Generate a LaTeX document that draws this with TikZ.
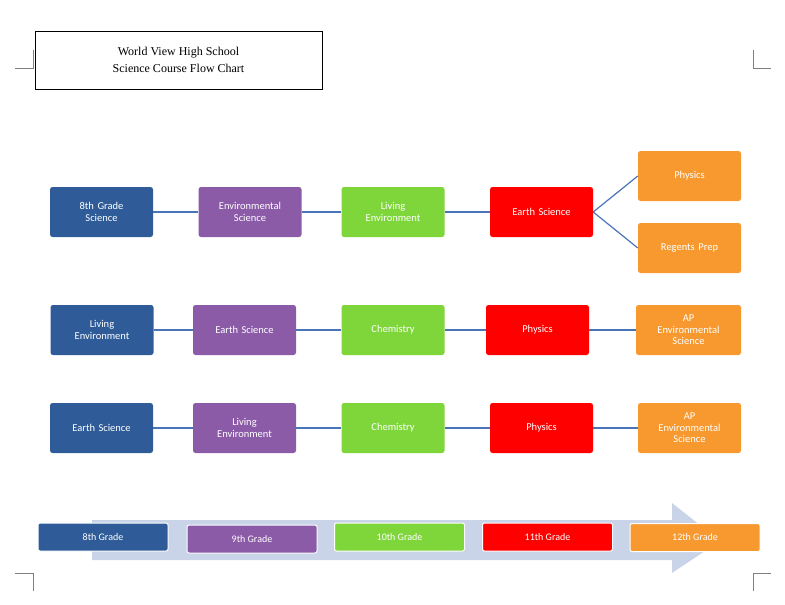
\documentclass[tikz,border=0pt]{standalone}
\usepackage{fontspec}
\setmainfont{Carlito}
\newfontfamily\serifttl{Liberation Serif}
\definecolor{cblue}{HTML}{2F5C98}
\definecolor{cpurp}{HTML}{8B5BA8}
\definecolor{cgreen}{HTML}{7FD63B}
\definecolor{cred}{HTML}{FF0000}
\definecolor{corange}{HTML}{F7992F}
\definecolor{cline}{HTML}{4A74B8}
\definecolor{carrow}{HTML}{CAD4E8}
\begin{document}
\begin{tikzpicture}[x=1pt,y=-1pt,
  bx/.style={draw=none,rounded corners=2.5pt,text=white,align=center,font=\fontsize{10.5pt}{11.5pt}\selectfont,inner sep=0pt,minimum width=103pt,minimum height=50pt,text width=100pt},
  lb/.style={draw=white,line width=1pt,rounded corners=2pt,text=white,font=\fontsize{10pt}{11pt}\selectfont,inner sep=0pt,minimum width=130pt,minimum height=28pt},
  cn/.style={draw=cline,line width=1.2pt}]
\useasboundingbox (0,0) rectangle (785,605);
\node[draw,line width=0.6pt,minimum width=287pt,minimum height=58pt,inner sep=0pt,align=center,font=\serifttl\fontsize{12pt}{17pt}\selectfont] (title) at (178.5,60) {World View High School\\Science Course Flow Chart};
\draw[gray,line width=0.5pt] (15,68)--(33,68)--(33,50);
\draw[gray,line width=0.5pt] (771,68)--(753,68)--(753,50);
\draw[gray,line width=0.5pt] (15,573)--(33,573)--(33,591);
\draw[gray,line width=0.5pt] (771,573)--(753,573)--(753,591);
% row1
\node[bx,fill=cblue] (a1) at (101.5,212) {8th Grade\\Science};
\node[bx,fill=cpurp] (a2) at (250,212) {Environmental\\Science};
\node[bx,fill=cgreen] (a3) at (393,212) {Living\\Environment};
\node[bx,fill=cred] (a4) at (541.5,212) {Earth Science};
\node[bx,fill=corange] (a5) at (689.5,176) {Physics};
\node[bx,fill=corange] (a6) at (689.5,248) {Regents Prep};
\draw[cn] (a1)--(a2); \draw[cn] (a2)--(a3); \draw[cn] (a3)--(a4);
\draw[cn] (a4.east)--(a5.west); \draw[cn] (a4.east)--(a6.west);
% row2
\node[bx,fill=cblue] (b1) at (102,330) {Living\\Environment};
\node[bx,fill=cpurp] (b2) at (244.5,330) {Earth Science};
\node[bx,fill=cgreen] (b3) at (393,330) {Chemistry};
\node[bx,fill=cred] (b4) at (537.5,330) {Physics};
\node[bx,fill=corange,minimum width=105pt] (b5) at (688.5,330) {AP\\Environmental\\Science};
\draw[cn] (b1)--(b2); \draw[cn] (b2)--(b3); \draw[cn] (b3)--(b4); \draw[cn] (b4)--(b5);
% row3
\node[bx,fill=cblue] (c1) at (101.5,428) {Earth Science};
\node[bx,fill=cpurp] (c2) at (244.5,428) {Living\\Environment};
\node[bx,fill=cgreen] (c3) at (393,428) {Chemistry};
\node[bx,fill=cred] (c4) at (541.5,428) {Physics};
\node[bx,fill=corange] (c5) at (689.5,428) {AP\\Environmental\\Science};
\draw[cn] (c1)--(c2); \draw[cn] (c2)--(c3); \draw[cn] (c3)--(c4); \draw[cn] (c4)--(c5);
% arrow
\fill[carrow] (92,520)--(672,520)--(672,503)--(720,541)--(672,573)--(672,560)--(92,560)--cycle;
\node[lb,fill=cblue] (g8) at (103,537) {8th Grade};
\node[lb,fill=cpurp] (g9) at (252,539) {9th Grade};
\node[lb,fill=cgreen] (g10) at (399.5,537) {10th Grade};
\node[lb,fill=cred] (g11) at (547.5,537) {11th Grade};
\node[lb,fill=corange] (g12) at (695,537.5) {12th Grade};
\end{tikzpicture}
\end{document}
